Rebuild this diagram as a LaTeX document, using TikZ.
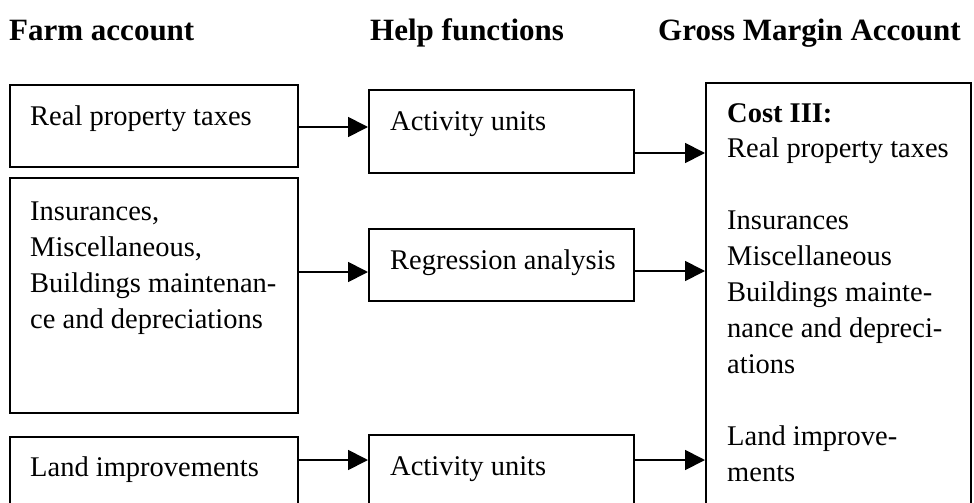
\documentclass[tikz,border=0pt]{standalone}
\usepackage{fontspec}
\setmainfont{Liberation Serif}
\usetikzlibrary{arrows.meta}
\begin{document}
\begin{tikzpicture}[x=1pt,y=-1pt,
  box/.style={draw, line width=1.8pt, inner sep=0pt, anchor=north west},
  txt/.style={anchor=base west, inner sep=0pt, font=\fontsize{28.5}{36}\selectfont},
  head/.style={anchor=base west, inner sep=0pt, font=\fontsize{31}{36}\selectfont\bfseries},
  flow/.style={line width=1.8pt, -{Triangle[length=20pt,width=20pt]}}]
\useasboundingbox (0,0) rectangle (974,503);
\clip (0,0) rectangle (974,503);

% column headings
\node[head] (hFarm) at (9,41) {Farm account};
\node[head] (hHelp) at (370,41) {Help functions};
\node[head] (hGross) at (658,41) {Gross Margin Account};

% farm account boxes
\node[box, minimum width=288pt, minimum height=82pt] (b1) at (9,84) {};
\node[box, minimum width=288pt, minimum height=235pt] (b2) at (9,177) {};
\node[box, minimum width=288pt, minimum height=100pt] (b3) at (9,436) {};

% help function boxes
\node[box, minimum width=265pt, minimum height=83pt] (h1) at (368,89) {};
\node[box, minimum width=265pt, minimum height=72pt] (h2) at (368,228) {};
\node[box, minimum width=265pt, minimum height=100pt] (h3) at (368,434) {};

% gross margin account box
\node[box, minimum width=265pt, minimum height=460pt] (g) at (705,82) {};

% texts
\node[txt] (t1) at (30,125) {Real property taxes};
\node[txt] (t2a) at (30,220) {Insurances,};
\node[txt] (t2b) at (30,256) {Miscellaneous,};
\node[txt] (t2c) at (30,292) {Buildings maintenan-};
\node[txt] (t2d) at (30,328) {ce and depreciations};
\node[txt] (t3) at (30,476) {Land improvements};

\node[txt] (u1) at (390,130) {Activity units};
\node[txt] (u2) at (390,269) {Regression analysis};
\node[txt] (u3) at (390,475) {Activity units};

\node[txt, font=\fontsize{28.5}{36}\selectfont\bfseries] (g0) at (727,122) {Cost III:};
\node[txt] (g1) at (727,157) {Real property taxes};
\node[txt] (g2) at (727,229) {Insurances};
\node[txt] (g3) at (727,265) {Miscellaneous};
\node[txt] (g4) at (727,301) {Buildings mainte-};
\node[txt] (g5) at (727,337) {nance and depreci-};
\node[txt] (g6) at (727,373) {ations};
\node[txt] (g7) at (727,445) {Land improve-};
\node[txt] (g8) at (727,481) {ments};

% connectors
\draw[flow] (b1.east |- 0,127) -- (h1.west |- 0,127);
\draw[flow] (h1.east |- 0,153) -- (g.west |- 0,153);
\draw[flow] (b2.east |- 0,272) -- (h2.west |- 0,272);
\draw[flow] (h2.east |- 0,271) -- (g.west |- 0,271);
\draw[flow] (b3.east |- 0,460) -- (h3.west |- 0,460);
\draw[flow] (h3.east |- 0,460) -- (g.west |- 0,460);
\end{tikzpicture}
\end{document}
